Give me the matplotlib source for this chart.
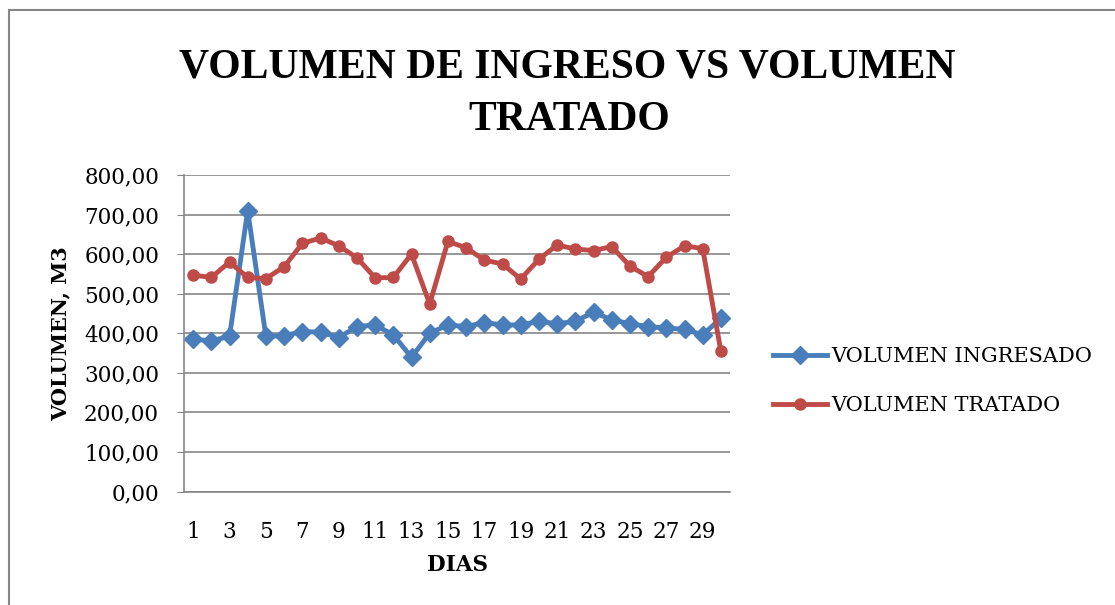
import numpy as np
import matplotlib
matplotlib.use('Agg')
import matplotlib.pyplot as plt
from matplotlib.patches import Rectangle

# datos
dias = list(range(1, 31))
vol_ingresado = [385, 381, 392, 710, 392, 394, 404, 403, 389, 417,
                 421, 396, 339, 400, 421, 417, 427, 421, 421, 430,
                 424, 430, 453, 434, 424, 417, 413, 410, 396, 438]
vol_tratado = [547, 541, 580, 541, 538, 568, 627, 641, 621, 591,
               540, 541, 600, 474, 632, 616, 585, 575, 537, 587,
               623, 613, 609, 619, 570, 543, 592, 621, 614, 354]
yticks = [0, 100, 200, 300, 400, 500, 600, 700, 800]

plt.rcParams['font.family'] = ['DejaVu Serif']

W, H = 1115, 605
fig = plt.figure(figsize=(W / 100, H / 100), dpi=100)
ax = fig.add_axes([184 / W, 1 - 491.5 / H, 546 / W, 316.5 / H])

ax.plot(dias, vol_ingresado, color='#4A7EBB', lw=3.5, marker='D', ms=9.5,
        label='VOLUMEN INGRESADO')
ax.plot(dias, vol_tratado, color='#BE4B48', lw=3.5, marker='o', ms=8,
        label='VOLUMEN TRATADO')

ax.set_xlim(0.5, 30.5)
ax.set_ylim(0, 800)
ax.set_yticks(yticks)
ax.set_yticklabels([f'{v},00' for v in yticks])
ax.set_xticks(dias[::2])
ax.tick_params(axis='y', labelsize=15.5, length=5, color='#868686', pad=13)
ax.tick_params(axis='x', labelsize=15.5, length=0, pad=21)
ax.grid(axis='y', color='#868686', lw=1.2)
ax.set_axisbelow(True)
for s in ['top', 'right']:
    ax.spines[s].set_visible(False)
for s in ['left', 'bottom']:
    ax.spines[s].set_color('#868686')
    ax.spines[s].set_linewidth(1.2)

ax.set_xlabel('DIAS', fontsize=15.5, fontweight='bold', labelpad=8)
ax.set_ylabel('VOLUMEN, M3', fontsize=15, fontweight='bold', labelpad=10)

# titulo en dos lineas
fig.text(567 / W, 1 - 77 / H, 'VOLUMEN DE INGRESO VS VOLUMEN', ha='center',
         va='baseline', fontsize=30, fontweight='bold', family='Liberation Serif')
fig.text(569 / W, 1 - 130 / H, 'TRATADO', ha='center',
         va='baseline', fontsize=30, fontweight='bold', family='Liberation Serif')

ax.legend(loc='upper left', bbox_to_anchor=(773 / W, 1 - 347 / H),
          bbox_transform=fig.transFigure, frameon=False, borderpad=0,
          borderaxespad=0, fontsize=15, handlelength=2.6, handletextpad=0.2,
          labelspacing=1.45)

# borde del area del grafico
fig.patches.append(Rectangle((9 / W, -0.1), 1.2, 1 - 10 / H + 0.1,
                             transform=fig.transFigure, fill=False,
                             edgecolor='#868686', lw=1.5))

fig.savefig('out.png', dpi=100)
